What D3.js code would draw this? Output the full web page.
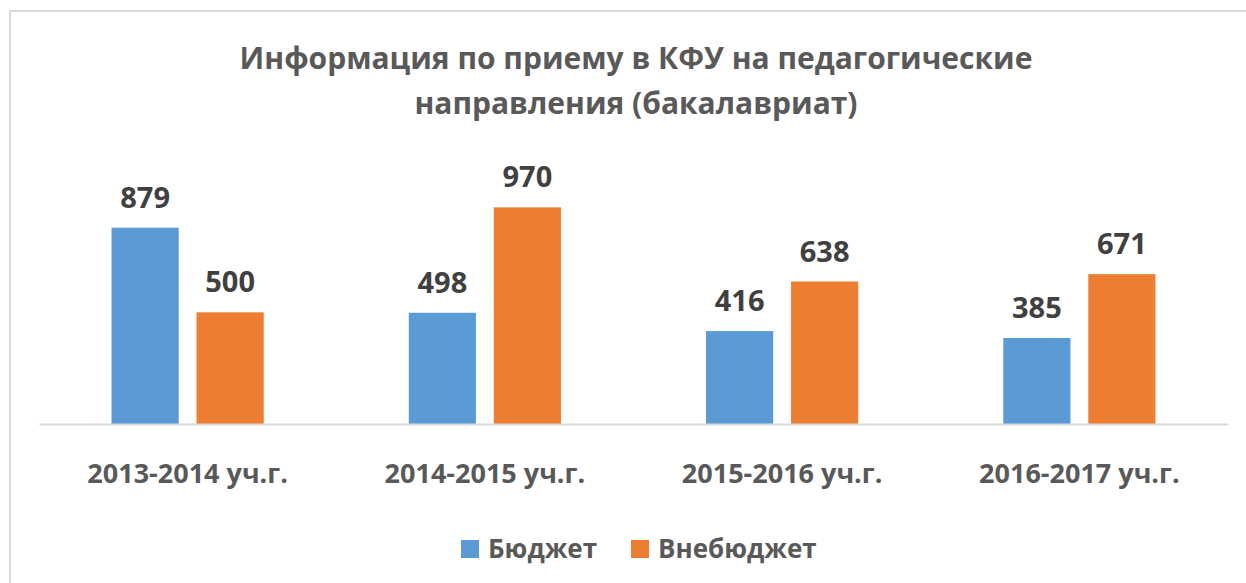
<!DOCTYPE html>
<html>
<head>
<meta charset="utf-8">
<script src="https://cdn.jsdelivr.net/npm/d3@7"></script>
<style>
  html, body { margin: 0; padding: 0; background: #fff; }
  svg { display: block; font-family: "Open Sans", sans-serif; font-weight: 700; }
</style>
</head>
<body>
<div id="chart"></div>
<script>
const categories = ["2013-2014 уч.г.", "2014-2015 уч.г.", "2015-2016 уч.г.", "2016-2017 уч.г."]
const seriesNames = ["Бюджет", "Внебюджет"]
const budget = [879, 498, 416, 385]
const offBudget = [500, 970, 638, 671]
const titleLines = ["Информация по приему в КФУ на педагогические", "направления (бакалавриат)"]

const colors = ["#5b9bd5", "#ed7d31"]
const width = 1246, height = 583
const plot = {left: 39, right: 1228, top: 156, bottom: 424}

const rows = categories.map((c, i) => ({category: c, values: [budget[i], offBudget[i]]}))

const svg = d3.select("#chart").append("svg")
  .attr("width", width)
  .attr("height", height)

// chart frame
svg.append("rect")
  .attr("x", 10).attr("y", 11)
  .attr("width", width + 10).attr("height", height + 10)
  .attr("fill", "none")
  .attr("stroke", "#d9d9d9")
  .attr("stroke-width", 2)

svg.append("g")
  .selectAll("text")
  .data(titleLines)
  .join("text")
  .attr("x", 636)
  .attr("y", (d, i) => 69 + i * 45)
  .attr("text-anchor", "middle")
  .attr("fill", "#595959")
  .style("font-size", "30px")
  .text(d => d)

const x0 = d3.scaleBand()
  .domain(categories)
  .range([plot.left, plot.right])
  .paddingInner(0.488)
  .paddingOuter(0.244)

const x1 = d3.scaleBand()
  .domain([0, 1])
  .range([0, x0.bandwidth()])
  .paddingInner(0.21)

const y = d3.scaleLinear()
  .domain([0, 1200])
  .range([plot.bottom, plot.top])

const group = svg.append("g")
  .selectAll("g")
  .data(rows)
  .join("g")
  .attr("transform", d => `translate(${x0(d.category)},0)`)

group.selectAll("rect")
  .data(d => d.values)
  .join("rect")
  .attr("x", (d, i) => x1(i))
  .attr("y", d => y(d))
  .attr("width", x1.bandwidth())
  .attr("height", d => y(0) - y(d))
  .attr("fill", (d, i) => colors[i])

group.selectAll("text")
  .data(d => d.values)
  .join("text")
  .attr("x", (d, i) => x1(i) + x1.bandwidth() / 2)
  .attr("y", d => y(d) - 20)
  .attr("text-anchor", "middle")
  .attr("fill", "#404040")
  .style("font-size", "29px")
  .text(d => d)

// category axis
const xAxis = svg.append("g")
  .attr("transform", `translate(0,${plot.bottom})`)
  .call(d3.axisBottom(x0).tickSize(0).tickPadding(40))

xAxis.select(".domain")
  .attr("stroke", "#d9d9d9")
  .attr("stroke-width", 2)

xAxis.selectAll("text")
  .attr("fill", "#595959")
  .style("font-family", "Open Sans, sans-serif")
  .style("font-weight", "700")
  .style("font-size", "27px")

// legend
const legendX = [461, 631]
const legend = svg.append("g")
  .selectAll("g")
  .data(seriesNames)
  .join("g")
  .attr("transform", (d, i) => `translate(${legendX[i]},540)`)

legend.append("rect")
  .attr("width", 18).attr("height", 18)
  .attr("fill", (d, i) => colors[i])

legend.append("text")
  .attr("x", 27)
  .attr("y", 18)
  .attr("fill", "#595959")
  .style("font-size", "26px")
  .text(d => d)
</script>
</body>
</html>
